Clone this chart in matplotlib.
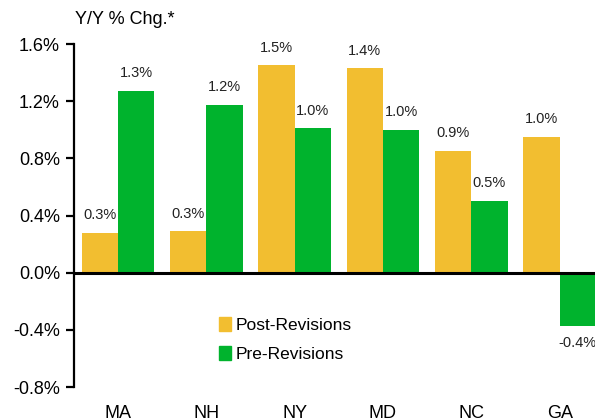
import numpy as np
import matplotlib.pyplot as plt
from matplotlib.patches import Patch

plt.rcParams['font.family'] = ['Liberation Sans', 'DejaVu Sans']

states = ["MA", "NH", "NY", "MD", "NC", "GA"]
post_rev = [0.28, 0.29, 1.45, 1.43, 0.85, 0.95]
pre_rev = [1.27, 1.175, 1.01, 1.00, 0.50, -0.37]
post_lbl = ["0.3%", "0.3%", "1.5%", "1.4%", "0.9%", "1.0%"]
pre_lbl = ["1.3%", "1.2%", "1.0%", "1.0%", "0.5%", "-0.4%"]
yticks = [-0.8, -0.4, 0.0, 0.4, 0.8, 1.2, 1.6]

gold = "#F2BE30"
green = "#00B32D"

fig = plt.figure(figsize=(5.95, 4.2), dpi=100)
# axes runs a little past the right edge, as in the cropped original
ax = fig.add_axes([73.8 / 595, 33 / 420, 530 / 595, 343 / 420])

x = np.arange(len(states))
w = 0.41
ax.bar(x - w / 2, post_rev, w, color=gold)
ax.bar(x + w / 2, pre_rev, w, color=green)

lbl_fs = 10.5
for i in range(len(states)):
    ax.text(x[i] - w / 2, post_rev[i] + 0.075, post_lbl[i], ha="center",
            va="bottom", fontsize=lbl_fs, color="#222222")
    if pre_rev[i] >= 0:
        ax.text(x[i] + w / 2, pre_rev[i] + 0.075, pre_lbl[i], ha="center",
                va="bottom", fontsize=lbl_fs, color="#222222")
    else:
        ax.text(x[i] + w / 2, pre_rev[i] - 0.075, pre_lbl[i], ha="center",
                va="top", fontsize=lbl_fs, color="#222222")

ax.axhline(0, color="black", lw=2.2)
ax.set_xlim(-0.5, 5.5)
ax.set_ylim(-0.8, 1.6)
ax.set_yticks(yticks)
ax.set_yticklabels([f"{v:.1f}%" for v in yticks], fontsize=13)
ax.set_xticks(x)
ax.set_xticklabels(states, fontsize=13)
ax.tick_params(axis="x", length=0, pad=13)
ax.tick_params(axis="y", length=6, width=1.6, direction="out", pad=4)
for s in ["top", "right", "bottom"]:
    ax.spines[s].set_visible(False)
ax.spines["left"].set_linewidth(1.6)

fig.text(75 / 595, 1 - 20 / 420, "Y/Y % Chg.*", fontsize=13, va="center")

handles = [Patch(color=gold, label="Post-Revisions"),
           Patch(color=green, label="Pre-Revisions")]
ax.legend(handles=handles, loc="upper left", bbox_to_anchor=(0.245, 0.25),
          frameon=False, fontsize=12.5, handlelength=0.65, handleheight=0.85,
          handletextpad=0.3, labelspacing=0.75)

fig.savefig("out.png", dpi=100)
